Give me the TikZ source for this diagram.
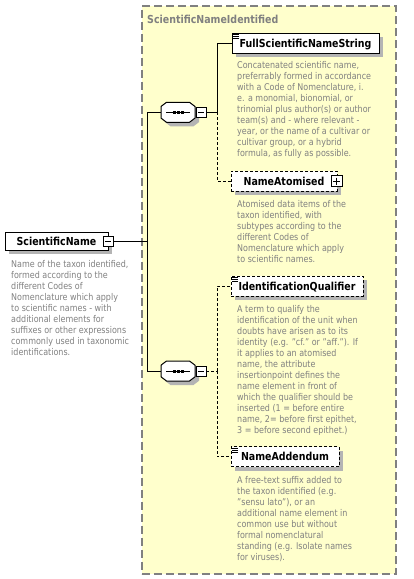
\documentclass[tikz,border=0pt]{standalone}
\usepackage{fontspec}
\setmainfont{DejaVu Sans}[FakeStretch=0.86]
\usetikzlibrary{shadows}
\definecolor{grpfill}{HTML}{FFFFCC}
\definecolor{grpline}{HTML}{808080}
\definecolor{desctext}{HTML}{808080}
\definecolor{shadowgray}{HTML}{B4B4B4}
\newcommand\xlabfont{\fontsize{11}{13}\selectfont\bfseries}
\newcommand\xdescfont{\fontsize{9.3}{11}\selectfont}
\begin{document}
\begin{tikzpicture}[x=1pt,y=-1pt,
  conn/.style={line width=1pt},
  optconn/.style={line width=1pt, dash pattern=on 3pt off 2pt},
  grpbox/.style={draw=grpline, fill=grpfill, line width=1.6pt, dash pattern=on 8pt off 4pt, inner sep=0},
  grptitle/.style={inner sep=0, text=desctext, font=\xlabfont},
  elem/.style={draw, fill=white, line width=1pt, inner sep=0, minimum height=20pt,
    text height=8pt, text depth=0pt, font=\xlabfont,
    drop shadow={shadow xshift=4pt, shadow yshift=-4pt, fill=shadowgray, opacity=1}},
  optelem/.style={elem, dash pattern=on 3pt off 2pt},
  desc/.style={anchor=north west, inner sep=0, align=left, text=desctext, font=\xdescfont},
  minusicon/.style={draw, fill=white, line width=0.9pt, minimum size=10pt, inner sep=0,
    path picture={\draw[line width=0.9pt] ([xshift=2pt]path picture bounding box.west) -- ([xshift=-2pt]path picture bounding box.east);}},
  plusicon/.style={draw, fill=white, line width=0.9pt, minimum size=11pt, inner sep=0,
    path picture={\draw[line width=0.9pt] ([xshift=2pt]path picture bounding box.west) -- ([xshift=-2pt]path picture bounding box.east);
                  \draw[line width=0.9pt] ([yshift=-2pt]path picture bounding box.north) -- ([yshift=2pt]path picture bounding box.south);}},
  listmark/.style={line width=0.8pt},
  seqpic/.pic={
    \fill[shadowgray] (-7.5,-6) -- (15.5,-6) -- (21,-1.8) -- (21,9.8) -- (15.5,14) -- (-7.5,14) -- (-13,9.8) -- (-13,-1.8) -- cycle;
    \filldraw[fill=white, line width=1pt] (-11.5,-10) -- (11.5,-10) -- (17,-5.8) -- (17,5.8) -- (11.5,10) -- (-11.5,10) -- (-17,5.8) -- (-17,-5.8) -- cycle;
    \draw[line width=1pt] (-12,0) -- (12,0);
    \fill (-5.5,-1.5) rectangle (-2.5,1.5);
    \fill (-1.5,-1.5) rectangle (1.5,1.5);
    \fill (2.5,-1.5) rectangle (5.5,1.5);
    \node[inner sep=0, minimum width=34pt, minimum height=20pt] (-o) at (0,0) {};
  }
]
\useasboundingbox (0,0) rectangle (414,579);

% group
\node[grpbox, anchor=north west, minimum width=254pt, minimum height=568pt] (grp) at (141,5) {};
\node[grptitle, anchor=base west] (grpt) at (147,23) {ScientificNameIdentified};

% junction coordinates
\coordinate (tA) at (147,112.3);
\coordinate (tB) at (147,371);
\coordinate (tM) at (147,241.5);
\coordinate (jA) at (217,112.3);
\coordinate (jB) at (217,371);

% root element
\node[elem, minimum width=103pt, minimum height=17.5pt] (sn) at (56.5,241.5) {ScientificName};
\node[minusicon] (snm) at (108,241.5) {};
\node[desc] (sndesc) at (11,258) {\rule{0pt}{9pt}Name of the taxon identified,\\formed according to the\\different Codes of\\Nomenclature which apply\\to scientific names - with\\additional elements for\\suffixes or other expressions\\commonly used in taxonomic\\identifications.};

% sequences
\pic (seq1) at (178,112.3) {seqpic};
\node[minusicon] (seq1m) at (201,112.3) {};
\pic (seq2) at (178,371) {seqpic};
\node[minusicon] (seq2m) at (201,371) {};

% child elements
\node[elem, minimum width=147pt] (fsns) at (305.5,43.3) {FullScientificNameString};
\node[desc] (fsnsdesc) at (237,59) {\rule{0pt}{9pt}Concatenated scientific name,\\preferrably formed in accordance\\with a Code of Nomenclature, i.\\e. a monomial, bionomial, or\\trinomial plus author(s) or author\\team(s) and - where relevant -\\year, or the name of a cultivar or\\cultivar group, or a hybrid\\formula, as fully as possible.};

\node[optelem, minimum width=106pt] (na) at (284,181.2) {NameAtomised\hspace{4pt}};
\node[plusicon] (nap) at (336.5,181.2) {};
\node[desc] (nadesc) at (237,198) {\rule{0pt}{9pt}Atomised data items of the\\taxon identified, with\\subtypes according to the\\different Codes of\\Nomenclature which apply\\to scientific names.};

\node[optelem, minimum width=132pt] (iq) at (297,286) {IdentificationQualifier};
\node[desc] (iqdesc) at (237,303) {\rule{0pt}{9pt}A term to qualify the\\identification of the unit when\\doubts have arisen as to its\\identity (e.g. "cf." or "aff."). If\\it applies to an atomised\\name, the attribute\\insertionpoint defines the\\name element in front of\\which the qualifier should be\\inserted (1 = before entire\\name, 2= before first epithet,\\3 = before second epithet.)};

\node[optelem, minimum width=108pt] (nadd) at (285,456.7) {NameAddendum};
\node[desc] (nadddesc) at (237,474) {\rule{0pt}{9pt}A free-text suffix added to\\the taxon identified (e.g.\\"sensu lato"), or an\\additional name element in\\common use but without\\formal nomenclatural\\standing (e.g. Isolate names\\for viruses).};

% list marks
\foreach \n in {fsns,iq,nadd}{
  \foreach \d in {1.7,3.7,5.7}{
    \draw[listmark] ([shift={(1.5,\d)}]\n.north west) -- ++(6,0);
  }
}

% connectors
\draw[conn] (snm.east) -- (tM);
\draw[conn] (tA) -- (tB);
\draw[conn] (tA) -- (seq1-o.west);
\draw[conn] (tB) -- (seq2-o.west);
\draw[conn] (seq1m.east) -- (jA);
\draw[conn] (jA) |- (fsns.west);
\draw[optconn] (jA) |- (na.west);
\draw[optconn] (seq2m.east) -- (jB);
\draw[optconn] (jB) |- (iq.west);
\draw[optconn] (jB) |- (nadd.west);
\end{tikzpicture}
\end{document}
